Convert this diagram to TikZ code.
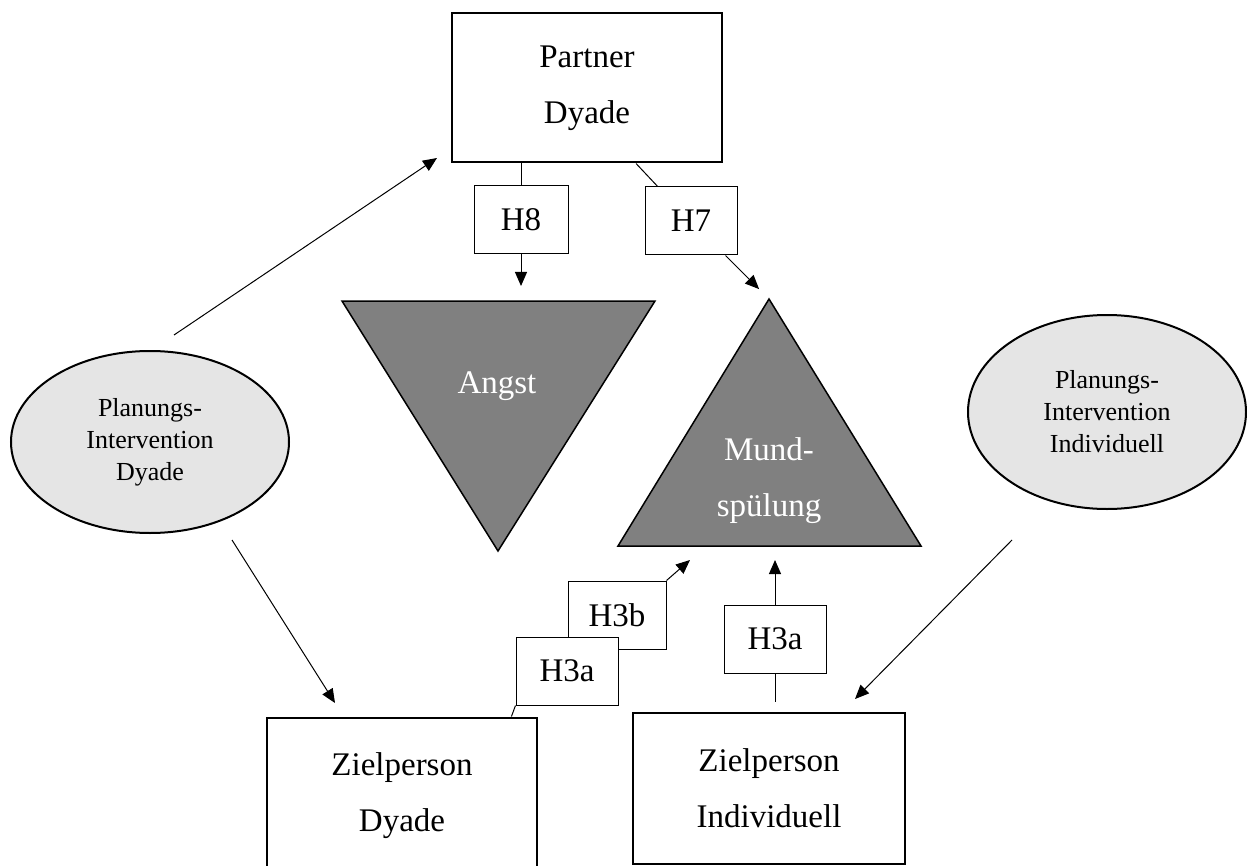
\documentclass[tikz,border=0pt]{standalone}
\usepackage{fontspec}
\setmainfont{Liberation Serif}
\usetikzlibrary{shapes.geometric,arrows.meta}

\begin{document}
\begin{tikzpicture}[x=0.5pt, y=-0.5pt, >={Triangle[length=7pt,width=6pt]}, line width=0.5pt,
		bigbox/.style={draw, line width=1pt, fill=white, align=center, font=\fontsize{16.5}{28}\selectfont},
		hbox/.style={draw, fill=white, minimum height=34pt, inner sep=0pt, font=\fontsize{16.5}{20}\selectfont},
		plan/.style={ellipse, draw, line width=1pt, fill=black!10, inner sep=0pt, minimum width=139pt, align=center, font=\fontsize{13}{16}\selectfont},
		tri/.style={draw, line width=0.75pt, fill=black!50},
		trilabel/.style={text=white, align=center, font=\fontsize{16.5}{28}\selectfont}]
		\clip (0,0) rectangle (1247,866);
		\coordinate (a1) at (342,301);
		\coordinate (a2) at (655,301);
		\coordinate (a3) at (498,551);
		\coordinate (m1) at (618,546);
		\coordinate (m2) at (921,546);
		\coordinate (m3) at (769,299);
		\coordinate (1) at (174,335);
		\coordinate (2) at (437,158);
		\coordinate (3) at (232,540);
		\coordinate (4) at (335,703);
		\coordinate (5) at (1012,540);
		\coordinate (6) at (855,699);
		\coordinate (7) at (690,560);
		\filldraw [tri] (a1) -- (a2) -- (a3) -- cycle;
		\filldraw [tri] (m1) -- (m2) -- (m3) -- cycle;
		\node [trilabel] (angst) at (497,386) {Angst};
		\node [trilabel] (mund) at (769,481) {Mund-\\spülung};
		\node [bigbox, minimum width=135pt, minimum height=74.5pt] (partner) at (587,88) {Partner\\Dyade};
		\node [hbox, minimum width=47pt] (h8) at (521,220) {H8};
		\node [hbox, minimum width=46pt] (h7) at (691,221) {H7};
		\node [plan, minimum height=91pt] (plandy) at (150,442) {Planungs-\\Intervention\\Dyade};
		\node [plan, minimum height=97pt] (planind) at (1107,412) {Planungs-\\Intervention\\Individuell};
		\node [hbox, minimum width=49pt] (h3b) at (617,615) {H3b};
		\node [hbox, minimum width=51pt] (h3a) at (567,671) {H3a};
		\node [hbox, minimum width=51pt] (h3ar) at (775,639) {H3a};
		\node [bigbox, minimum width=135pt, minimum height=78.5pt] (zieldy) at (402,796) {Zielperson\\Dyade};
		\node [bigbox, minimum width=136pt, minimum height=75.5pt] (zielind) at (769,788) {Zielperson\\Individuell};
		\draw (h8.north) -- (h8.north |- partner.south);
		\draw [->, shorten >=7.5pt] (h8.south) -- (h8.south |- a1);
		\draw (partner.-57) -- (h7.134);
		\draw [->, shorten >=7pt] (h7.-45) -- (m3);
		\draw [->] (h3b.north east) -- (7);
		\draw (zieldy.36) -- (h3a.south west);
		\draw [->, shorten >=7pt] (h3ar.north) -- (h3ar.north |- m1);
		\draw [shorten >=5pt] (h3ar.south) -- (h3ar.south |- zielind.north);
		\draw [->] (1) -- (2);
		\draw [->] (3) -- (4);
		\draw [->] (5) -- (6);
\end{tikzpicture}
\end{document}
